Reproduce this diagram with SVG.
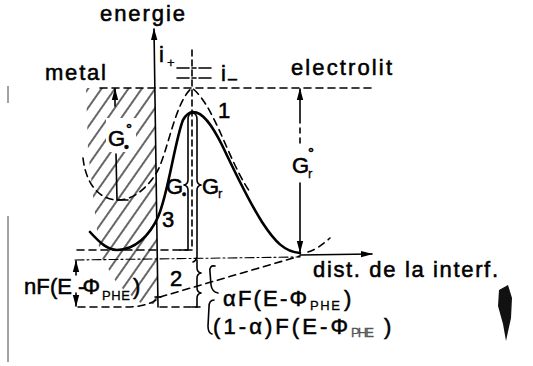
<svg xmlns="http://www.w3.org/2000/svg" width="533" height="366" viewBox="0 0 533 366">
<style>
.ln{stroke:#000;stroke-width:1.6;fill:none;stroke-linecap:round;stroke-linejoin:round}
.thick{stroke-width:2.6}
.dash{stroke-dasharray:7 5}
.dd{stroke-dasharray:9 3 2 3;stroke-width:1.1}
.t{font-family:"Liberation Sans",Arial,sans-serif;fill:#000;stroke:#000;stroke-width:0.55;font-size:22px}
.s{font-size:13px;stroke-width:0.3}
.sup{font-size:15px}
</style>
<defs>
<marker id="ah" viewBox="0 0 12 8" refX="11" refY="4" markerWidth="12" markerHeight="8" markerUnits="userSpaceOnUse" orient="auto">
<path d="M0,0.8 L12,4 L0,7.2 z" fill="#000"/>
</marker>
<pattern id="hatch" patternUnits="userSpaceOnUse" width="11" height="11" patternTransform="rotate(35)">
<line x1="2" y1="0" x2="2" y2="11" stroke="#000" stroke-width="1.2"/>
</pattern>
<clipPath id="hc">
<polygon points="86,88 155,88 158,304 142,304 118,285 100,255 94,205 88,150"/>
</clipPath>
</defs>

<g id="scan-marks">
<line x1="8" y1="86" x2="8" y2="103" stroke="#444" stroke-width="1"/>
<line x1="8" y1="216" x2="8" y2="362" stroke="#444" stroke-width="1"/>
<path d="M499,290 L508,285 L512,298 L511,318 L506,341 L503,324 L498,306 z" fill="#111"/>
</g>

<g id="metal-hatch">
<rect x="80" y="88" width="80" height="220" fill="url(#hatch)" clip-path="url(#hc)"/>
<rect x="106" y="118" width="30" height="34" fill="#fff"/>
</g>

<g id="connectors">
<path class="ln" d="M158,307 L154,29" marker-end="url(#ah)"/>
<path class="ln" d="M300,255 L372,254" marker-end="url(#ah)"/>
<path class="ln dd" d="M75,260 L300,257"/>
<path class="ln dash" d="M100,88 L372,88"/>
<path class="ln" style="stroke-dasharray:6 4" d="M192,50 L192,250"/>
<path class="ln" style="stroke-dasharray:12 3 4 3" d="M177,68 L212,68"/>
<path class="ln" style="stroke-dasharray:12 3 4 3" d="M177,78 L212,78"/>
<path class="ln dash" d="M83,158 C86,185 100,200 118,200 C135,200 150,185 158,170 C168,150 176,100 192,88 C205,98 215,120 228,150 C236,168 243,182 250,192"/>
<path class="ln thick" d="M90,232 C100,243 108,250 117,250 C135,250 150,235 158,217 C168,195 175,140 183,120 C187,113 190,112 193,112 C203,112 212,125 222,145 C235,172 248,200 262,222 C275,242 285,252 300,253"/>
<path class="ln dash" d="M78,307 L130,307 Q150,306 160,297 L300,256"/>
<path class="ln dash" d="M308,252 Q318,249 330,238"/>
<path class="ln dash" d="M77,250 L192,250"/>
<path class="ln dash" d="M160,307 L200,307"/>
<path class="ln" d="M115,106 L115,89" marker-end="url(#ah)"/>
<path class="ln" d="M116,154 L117,200 L128,200"/>
<path class="ln" d="M180,250 L188,250 L188,190 Q188,186 184,185 Q188,184 188,180 L188,120 Q188,113 192.5,113 Q197,113 197,120 L197,180 Q197,184 201,185 Q197,186 197,190 L197,257 Q196,261 193,262"/>
<path class="ln" d="M300,123 L300,89" marker-end="url(#ah)"/>
<path class="ln" style="stroke-dasharray:5 5" d="M300,128 L300,145"/>
<path class="ln" d="M300,183 L300,252" marker-end="url(#ah)"/>
<path class="ln" style="stroke-dasharray:6 3" d="M76,275 L76,261" marker-end="url(#ah)"/>
<path class="ln" style="stroke-dasharray:6 3" d="M76,293 L76,306" marker-end="url(#ah)"/>
<path class="ln" d="M197,260 L197,268 Q197,272 201,273 Q197,274 197,278 L197,288 Q197,292 201,293 Q197,294 197,298 L197,307 L192,307"/>
<path class="ln" d="M215,266 Q209,265 210,272 L211,285 Q212,292 218,293"/>
<path class="ln" d="M214,300 Q209,300 209,307 L208,326 Q208,333 212,334"/>
<path class="ln" d="M155,297 L161,297"/>
</g>

<g id="labels">
<text class="t" x="100" y="21" textLength="85">energie</text>
<text class="t" x="45" y="80" textLength="61">metal</text>
<text class="t" x="291" y="75" textLength="101">electrolit</text>
<text class="t" x="313" y="277" textLength="185">dist. de la interf.</text>
<g id="i-plus"><text class="t" x="159" y="62">i</text><text class="t s" x="167" y="67">+</text></g>
<g id="i-minus"><text class="t" x="221" y="81">i</text><text class="t" x="228" y="84" style="font-size:16px">–</text></g>
<text class="t" x="218" y="118">1</text>
<text class="t" x="162" y="227">3</text>
<text class="t" x="170" y="286">2</text>
<g id="G0-left"><text class="t" x="108" y="146">G</text><text class="t sup" x="126" y="134">°</text><text class="t" x="124" y="152" style="font-size:14px">•</text></g>
<g id="G0-center"><text class="t" x="166" y="194">G</text><text class="t" x="182" y="199" style="font-size:12px">•</text></g>
<g id="Gr-center"><text class="t" x="202" y="194">G</text><text class="t s" x="218" y="198">r</text></g>
<g id="Gr0-right"><text class="t" x="292" y="173">G</text><text class="t s" x="308" y="178">r</text><text class="t sup" x="308" y="158">°</text></g>
<g id="nF"><text class="t" x="24" y="294" textLength="48">nF(E</text><text class="t" x="78" y="294" textLength="22">-Φ</text><text class="t s" x="102" y="300" textLength="28">PHE</text><text class="t" x="133" y="294">)</text></g>
<g id="aF"><text class="t" x="223" y="306" textLength="84">αF(E-Φ</text><text class="t s" x="310" y="310" textLength="30">PHE</text><text class="t" x="344" y="306">)</text></g>
<g id="a1F"><text class="t" x="213" y="334" textLength="135">(1-α)F(E-Φ</text><text class="t s" x="351" y="337" textLength="23" style="fill:#555;stroke:#555">PHE</text><text class="t" x="384" y="334">)</text></g>
</g>
</svg>
